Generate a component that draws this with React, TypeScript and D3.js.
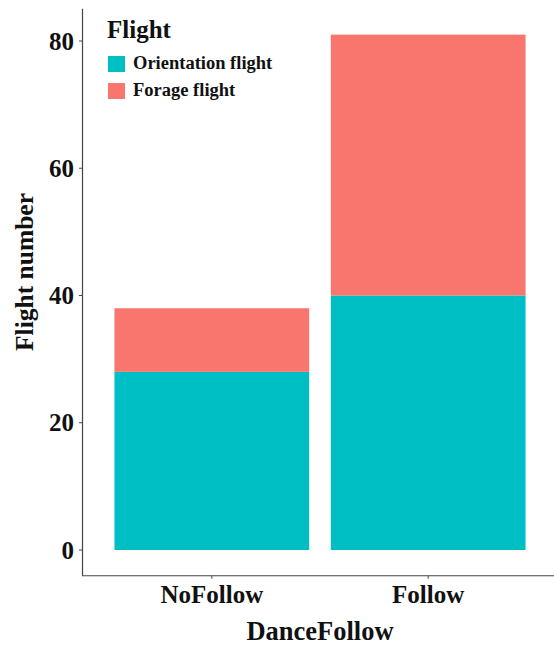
import React from "react";
import * as d3 from "d3";

const categories = ["NoFollow", "Follow"];
const orientation = [28, 40];
const forage = [10, 41];
const seriesNames = ["Orientation flight", "Forage flight"];
const colors = ["#00BFC4", "#F8766D"];
const yTicks = [0, 20, 40, 60, 80];

export default function App() {
  const W = 554, H = 646;
  const y = d3.scaleLinear().domain([0, 80]).range([550, 41]);
  const x = d3.scaleBand<string>().domain(categories).range([82, 558]).paddingInner(0.1).paddingOuter(0.15);
  const yTop = y(85.05), yBot = y(-4.05);
  const font = "'Liberation Serif', 'Times New Roman', serif";
  const stacked = categories.map((c, i) => [
    { y0: 0, y1: orientation[i], color: colors[0] },
    { y0: orientation[i], y1: orientation[i] + forage[i], color: colors[1] },
  ]);
  return (
    <svg width={W} height={H} style={{ position: "absolute", left: 0, top: 0, background: "#fff" }} fontFamily={font} fontWeight="bold">
      {stacked.map((segs, i) =>
        segs.map((s, j) => (
          <rect key={`${i}-${j}`} x={x(categories[i])} width={x.bandwidth()} y={y(s.y1)} height={y(s.y0) - y(s.y1)} fill={s.color} />
        ))
      )}
      <line x1={82.5} x2={82.5} y1={yTop} y2={yBot} stroke="#444" strokeWidth={1.2} />
      <line x1={82} x2={W} y1={yBot} y2={yBot} stroke="#444" strokeWidth={1.2} />
      {yTicks.map((t) => (
        <g key={t}>
          <line x1={79} x2={82} y1={y(t)} y2={y(t)} stroke="#444" />
          <text x={74} y={y(t)} dy="0.34em" textAnchor="end" fontSize={25} fill="#111">{t}</text>
        </g>
      ))}
      {categories.map((c) => {
        const cx = (x(c) as number) + x.bandwidth() / 2;
        return (
          <g key={c}>
            <line x1={cx} x2={cx} y1={yBot} y2={yBot + 3} stroke="#444" />
            <text x={cx} y={603} textAnchor="middle" fontSize={25} fill="#111">{c}</text>
          </g>
        );
      })}
      <text x={(82 + 558) / 2} y={640} textAnchor="middle" fontSize={26.5} fill="#111">DanceFollow</text>
      <text transform={`translate(33, 272) rotate(-90)`} textAnchor="middle" fontSize={25.5} fill="#111">Flight number</text>
      <text x={107} y={38} fontSize={25} fill="#111">Flight</text>
      {seriesNames.map((n, i) => (
        <g key={n}>
          <rect x={108} y={56 + i * 27} width={17} height={16} fill={colors[i]} />
          <text x={133} y={69 + i * 27} fontSize={18.5} fill="#111">{n}</text>
        </g>
      ))}
    </svg>
  );
}
